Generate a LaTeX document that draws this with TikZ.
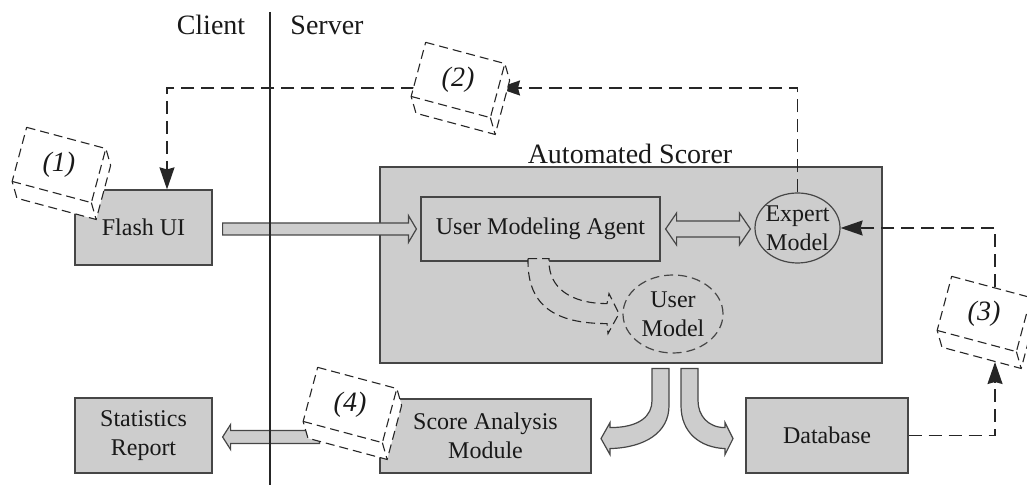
\documentclass[tikz,border=0pt]{standalone}
\usepackage{fontspec}
\setmainfont{Liberation Serif}
\usetikzlibrary{arrows.meta,calc,shapes.geometric}
\definecolor{boxfill}{RGB}{205,205,205}
\definecolor{edge}{RGB}{70,70,70}
\definecolor{ink}{RGB}{25,25,25}
\begin{document}
\begin{tikzpicture}[x=0.5pt,y=-0.5pt,
  font=\fontsize{12}{14.5}\selectfont, text=ink,
  block/.style={draw=edge, fill=boxfill, line width=0.6pt, align=center, inner sep=0pt},
  oval/.style={ellipse, draw=edge, line width=0.6pt, inner sep=0pt},
  lbl/.style={align=center, inner sep=0pt},
  biglbl/.style={inner sep=0pt, font=\fontsize{14}{17}\selectfont},
  blockarrow/.style={draw=edge, fill=boxfill, line width=0.6pt, line join=miter},
  flow/.style={draw=black!85, line width=0.75pt, dash pattern=on 6.5pt off 3.5pt,
    -{Stealth[length=11pt,width=7.5pt,inset=1pt]}},
  pkgline/.style={draw=black!85, line width=0.55pt, dash pattern=on 4.5pt off 2.5pt},
  pkg/.pic={
    \draw[pkgline, fill=white] (-41,-28) -- (41,-28) -- (50,-13) -- (50,43)
      -- (-32,43) -- (-41,28) -- cycle;
    \draw[pkgline] (-41,28) -- (41,28) -- (41,-28) (41,28) -- (50,43);
    \node[inner sep=0pt, font=\itshape\fontsize{14}{17}\selectfont] (-label) at (0,0) {#1};
  }]
\useasboundingbox (0,0) rectangle (1027,490);

% side headings
\node[biglbl] (client) at (211,25) {Client};
\node[biglbl] (server) at (327,25) {Server};

% automated scorer and its parts
\node[block, minimum width=251pt, minimum height=98pt] (scorer) at (631,265) {};
\node[biglbl] (scorerlbl) at (630,154) {Automated Scorer};
\node[block, minimum width=119.5pt, minimum height=32pt] (uma) at (540.5,229) {User Modeling Agent};
\node[oval, minimum width=42.5pt, minimum height=35pt] (expert) at (797.5,228) {};
\node[lbl] (expertlbl) at (expert.center) {Expert\\Model};
\node[oval, dashed, dash pattern=on 4.5pt off 2.5pt, minimum width=50pt, minimum height=39pt] (usermodel) at (673,314) {};
\node[lbl] (usermodellbl) at (usermodel.center) {User\\Model};

% remaining boxes
\node[block, minimum width=68.5pt, minimum height=37.5pt] (flash) at (143.5,227.5) {Flash UI};
\node[block, minimum width=68.5pt, minimum height=37.5pt] (stats) at (143.5,435.5) {Statistics\\Report};
\node[block, minimum width=105.5pt, minimum height=37pt] (score) at (485.5,436) {Score Analysis\\Module};
\node[block, minimum width=81pt, minimum height=37.5pt] (db) at (827,435.5) {Database};

% Flash UI -> User Modeling Agent
\coordinate (fuTail) at ($(flash.east)+(10,1.5)$);
\coordinate (fuTip) at ($(uma.west)+(-4,0)$);
\draw[blockarrow] ($(fuTail)+(0,-6)$) -- ($(fuTip)+(-8,-6)$) -- ($(fuTip)+(-8,-13.5)$)
  -- (fuTip) -- ($(fuTip)+(-8,13.5)$) -- ($(fuTip)+(-8,6)$) -- ($(fuTail)+(0,6)$) -- cycle;

% User Modeling Agent <-> Expert Model
\coordinate (dL) at ($(uma.east)+(5,0)$);
\coordinate (dR) at ($(expert.west)+(-4,1)$);
\draw[blockarrow] (dL) -- ++(11,-16) -- ++(0,8) -- ($(dR)+(-11,-8)$) -- ++(0,-8) -- (dR)
  -- ++(-11,16) -- ++(0,-8) -- ($(dL)+(11,8)$) -- ++(0,8) -- cycle;

% Score Analysis Module -> Statistics Report
\coordinate (sTip) at ($(stats.east)+(10,1.5)$);
\coordinate (sTail) at ($(score.west)+(-60,1)$);
\draw[blockarrow] (sTip) -- ++(8,-12.5) -- ++(0,6) -- ($(sTail)+(0,-6.5)$)
  -- ($(sTail)+(0,6.5)$) -- ($(sTip)+(8,6.5)$) -- ++(0,6) -- cycle;

% scorer -> Score Analysis Module / Database
\begin{scope}[shift={(scorer.south)}]
  \draw[blockarrow] (21,5) -- (38,5) -- (38,42) .. controls (38,69) and (14,84) .. (-21,85)
    -- (-21,91) -- (-30,75) -- (-21,59) -- (-21,64) .. controls (9,64) and (21,52) .. (21,37) -- cycle;
  \draw[blockarrow] (50,5) -- (67,5) -- (67,37) .. controls (67,52) and (77,64) .. (94,64)
    -- (94,59) -- (102,75) -- (94,91) -- (94,85) .. controls (69,84) and (50,69) .. (50,42) -- cycle;
\end{scope}

% User Modeling Agent -> User Model
\begin{scope}[shift={(uma.south)}]
  \draw[pkgline, fill=boxfill] (-12.5,-3) -- (8.5,-3) -- (8.5,0) .. controls (8.5,26) and (30,42) .. (66.5,42)
    -- (68.5,32) -- (78.5,52) -- (67.5,72) -- (66.5,62) .. controls (14.5,62) and (-12.5,44) .. (-12.5,0) -- cycle;
\end{scope}

% client / server divider
\coordinate (divtop) at (270,12);
\coordinate (divbot) at (270,485);
\draw[draw=black!85, line width=1pt] (divtop) -- (divbot);

% ends of the dashed flows at the packages
\coordinate (c2in) at (498,88);
\coordinate (c2out) at (414,88);
\coordinate (c3in) at (995,362);
\coordinate (c3out) at (995,287);

% dashed message flows
\draw[flow] (expert.north) |- (c2in);
\draw[flow] (c2out) -| ($(flash.north)+(23.5,0)$);
\draw[flow] (db.east) -| (c3in);
\draw[flow] (c3out) |- (expert.east);

% packages
\pic (p1) [rotate=-15] at (59,165) {pkg={(1)}};
\pic (p2) [rotate=-15] at (458,80) {pkg={(2)}};
\pic (p3) [rotate=-15] at (984,314) {pkg={(3)}};
\pic (p4) [rotate=-15] at (350,405) {pkg={(4)}};
\end{tikzpicture}
\end{document}
